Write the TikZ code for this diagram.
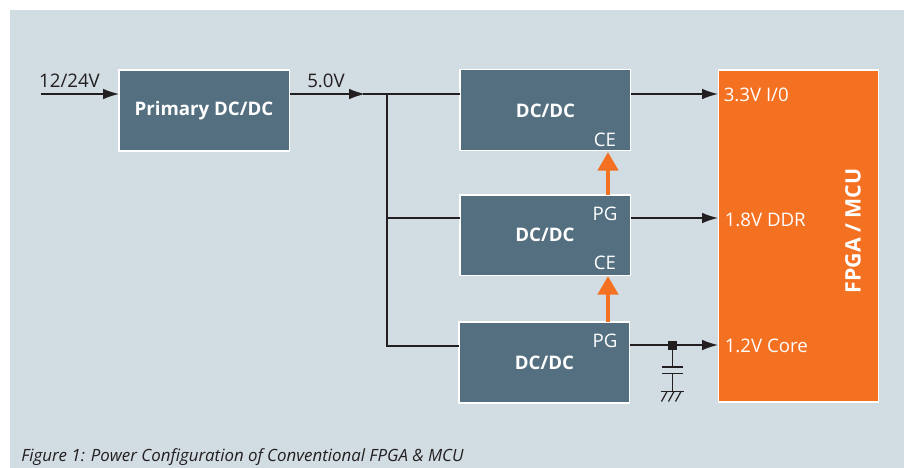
\documentclass[tikz,border=0pt]{standalone}
\usepackage{fontspec}
\setmainfont{Open Sans}
\usetikzlibrary{arrows.meta}
\definecolor{panel}{HTML}{D2DCE3}
\definecolor{slate}{HTML}{546F80}
\definecolor{fpga}{HTML}{F57122}
\definecolor{ink}{HTML}{231F20}
\tikzset{
  x=0.75pt,y=-0.75pt,
  block/.style={draw=white,line width=0.9pt,fill=slate,inner sep=0pt,outer sep=0pt,anchor=north west},
  title/.style={text=white,font=\fontsize{14}{16}\selectfont\bfseries,inner sep=0pt},
  pin/.style={text=white,font=\fontsize{14}{16}\selectfont,inner sep=0pt},
  rail/.style={draw=ink,line width=1pt},
  feed/.style={rail,-{Latex[length=12pt,width=8pt]}},
  enable/.style={draw=fpga,line width=3.7pt,-{Triangle[length=14pt,width=15pt]}},
  volt/.style={text=ink,font=\fontsize{14}{16}\selectfont,inner sep=0pt,anchor=base},
  rail label/.style={text=white,font=\fontsize{14}{16}\selectfont,inner sep=0pt,anchor=west},
  gnd/.style={draw=ink,line width=0.9pt}
}
\begin{document}
\begin{tikzpicture}
\useasboundingbox (0,0) rectangle (904,468);
\fill[panel] (10,10) rectangle (904,468);
\node[block,minimum width=170.5*0.75pt,minimum height=81*0.75pt] (prim) at (119,70) {};
\node[block,minimum width=170.5*0.75pt,minimum height=81*0.75pt] (dc1) at (460,69.5) {};
\node[block,minimum width=170.5*0.75pt,minimum height=80.5*0.75pt] (dc2) at (460,195) {};
\node[block,minimum width=170.5*0.75pt,minimum height=81*0.75pt] (dc3) at (459,322) {};
\node[block,fill=fpga,minimum width=160*0.75pt,minimum height=332*0.75pt] (fpga) at (718.5,70) {};
\node[title] (primt) at (204,110.5) {Primary DC/DC};
\node[title] (dc1t) at (545.5,110.5) {DC/DC};
\node[title] (dc2t) at (545,235) {DC/DC};
\node[title] (dc3t) at (544.5,362.5) {DC/DC};
\node[text=white,font=\fontsize{16}{18}\selectfont\bfseries,rotate=90,inner sep=0pt] (fpgat) at (853,231) {FPGA / MCU};
% pins
\node[pin] (ce1) at (605,139.5) {CE};
\node[pin] (pg2) at (605,213.5) {PG};
\node[pin] (ce2) at (605,262.5) {CE};
\node[pin] (pg3) at (605,340.5) {PG};
% rail labels
\node[rail label] (v33) at (723.5,95) {3.3V I/0};
\node[rail label] (v18) at (724.5,220) {1.8V DDR};
\node[rail label] (v12) at (724.5,346) {1.2V Core};
% inputs
\coordinate (in) at (41,94);
\coordinate (junc) at (387,94);
\coordinate (t2) at (387,218);
\coordinate (t3) at (387,346);
\node[volt] (l12) at (69.5,87) {12/24V};
\node[volt] (l5) at (326,87) {5.0V};
\draw[feed] (in) -- (in -| prim.west);
\draw[feed] (prim.east |- in) -- (365,94);
\draw[rail] (363,94) -- (dc1.west |- junc);
\draw[rail] (junc) -- (t3) -- (t3 -| dc3.west);
\draw[rail] (t2) -- (t2 -| dc2.west);
\draw[feed] (dc1.east |- 0,94) -- (718,94);
\draw[feed] (dc2.east |- 0,218) -- (718,218);
\draw[feed] (dc3.east |- 0,345) -- (718,345);
% enable arrows
\draw[enable] (dc2.north -| 608,0) -- (608,152);
\draw[enable] (dc3.north -| 608,0) -- (608,276);
% cap + ground
\node[fill=ink,minimum size=9*0.75pt,inner sep=0pt] (dot) at (672.5,345) {};
\coordinate (capa) at (672.5,367);
\coordinate (capb) at (672.5,373.5);
\coordinate (g) at (672.5,391);
\draw[gnd] (dot) -- (capa);
\draw[gnd] (capb) -- (g);
\draw[gnd,line width=1.1pt] (662,367) -- (683,367);
\draw[gnd,line width=1.1pt] (662,373.5) -- (683,373.5);
\draw[gnd] (660.5,391.5) -- (684,391.5);
\draw[gnd] (667,391.5) -- (661.5,401.5);
\draw[gnd] (674,391.5) -- (668.5,401.5);
\draw[gnd] (681,391.5) -- (675.5,401.5);
\node[text=ink,font=\fontsize{12.65}{15}\selectfont\itshape,inner sep=0pt,anchor=base west] (cap) at (21,461.5) {Figure 1: Power Configuration of Conventional FPGA \& MCU};
\end{tikzpicture}
\end{document}
